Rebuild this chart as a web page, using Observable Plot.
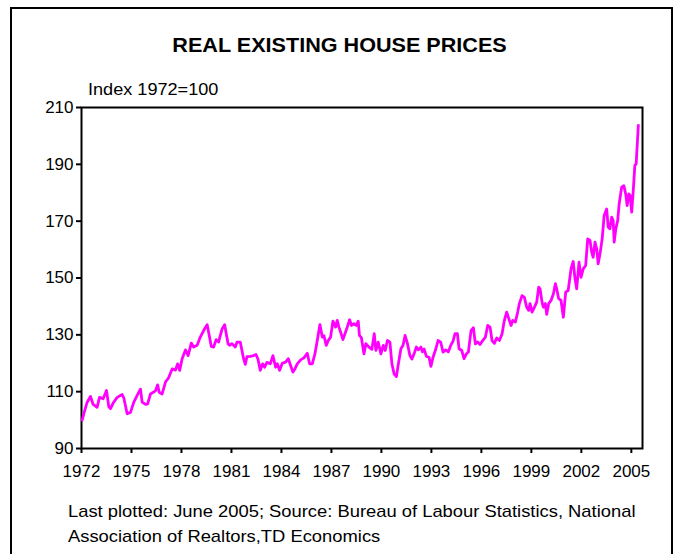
<!DOCTYPE html>
<html>
<head>
<meta charset="utf-8">
<script src="https://cdn.jsdelivr.net/npm/d3@7"></script>
<script src="https://cdn.jsdelivr.net/npm/@observablehq/plot@0.6"></script>
<style>
  html, body { margin: 0; padding: 0; background: #fff; }
  #wrap { position: relative; width: 679px; height: 554px; overflow: hidden; font-family: "Liberation Sans", Arial, sans-serif; color: #000; }
  #border { position: absolute; left: 10px; top: 7px; width: 659px; height: 600px; border: 2px solid #000; }
  #title { position: absolute; left: 0; width: 679px; top: 33px; text-align: center; font-weight: bold; font-size: 20px; line-height: 24px; transform: scaleX(1.08); transform-origin: 339px 0; }
  #unit { position: absolute; left: 88px; top: 79px; font-size: 17px; line-height: 21px; transform: scaleX(1.065); transform-origin: 0 0; white-space: nowrap; }
  #chart { position: absolute; left: 0; top: 0; }
  #caption { position: absolute; left: 68px; top: 499px; font-size: 17px; line-height: 25px; width: 600px; transform: scaleX(1.08); transform-origin: 0 0; white-space: nowrap; }
</style>
</head>
<body>
<div id="wrap">
  <div id="border"></div>
  <div id="chart"></div>
  <div id="title">REAL EXISTING HOUSE PRICES</div>
  <div id="unit">Index 1972=100</div>
  <div id="caption">Last plotted: June 2005; Source: Bureau of Labour Statistics, National<br>Association of Realtors,TD Economics</div>
</div>
<script>
const years = [
  1972.04,1972.14,1972.34,1972.54,1972.70,1972.94,1973.08,1973.30,1973.50,1973.64,1973.74,1973.90,
  1974.14,1974.44,1974.54,1974.74,1974.94,1975.14,1975.44,1975.54,1975.64,1975.84,1975.97,
  1976.14,1976.44,1976.57,1976.66,1976.84,1977.04,1977.23,1977.44,1977.64,1977.77,1977.89,
  1978.04,1978.24,1978.40,1978.59,1978.73,1978.94,1979.13,1979.33,1979.54,1979.63,1979.79,1979.93,
  1980.08,1980.23,1980.44,1980.59,1980.69,1980.80,1980.89,1981.03,1981.23,1981.33,1981.53,1981.63,
  1981.73,1981.83,1981.93,1982.13,1982.33,1982.47,1982.59,1982.73,1982.87,1982.99,1983.13,1983.33,
  1983.49,1983.65,1983.75,1983.89,1984.05,1984.25,1984.41,1984.55,1984.69,1984.81,1984.95,
  1985.15,1985.35,1985.55,1985.69,1985.85,1986.01,1986.15,1986.31,1986.45,1986.55,1986.69,1986.81,
  1986.95,1987.09,1987.25,1987.35,1987.45,1987.55,1987.69,1987.85,1987.95,1988.09,1988.21,1988.35,
  1988.49,1988.61,1988.68,1988.80,1988.95,1989.07,1989.25,1989.43,1989.57,1989.67,1989.81,1989.97,
  1990.11,1990.23,1990.36,1990.51,1990.63,1990.76,1990.90,1991.02,1991.17,1991.30,1991.42,1991.56,
  1991.71,1991.83,1991.96,1992.10,1992.22,1992.37,1992.46,1992.56,1992.70,1992.86,1992.97,1993.10,
  1993.27,1993.40,1993.56,1993.70,1993.86,1994.02,1994.16,1994.30,1994.42,1994.56,1994.66,1994.82,
  1994.96,1995.10,1995.22,1995.38,1995.52,1995.64,1995.78,1995.92,1996.08,1996.24,1996.38,1996.52,
  1996.64,1996.78,1996.92,1997.08,1997.24,1997.38,1997.52,1997.64,1997.78,1997.88,1998.04,1998.18,
  1998.28,1998.44,1998.58,1998.72,1998.84,1998.92,1999.04,1999.18,1999.32,1999.44,1999.52,1999.64,
  1999.72,1999.84,1999.92,2000.04,2000.18,2000.32,2000.44,2000.52,2000.64,2000.78,2000.92,2001.06,
  2001.21,2001.38,2001.51,2001.62,2001.72,2001.86,2001.98,2002.11,2002.26,2002.38,2002.52,2002.62,
  2002.71,2002.82,2002.92,2003.01,2003.12,2003.25,2003.37,2003.52,2003.61,2003.71,2003.82,2003.91,
  2003.97,2004.07,2004.18,2004.27,2004.42,2004.55,2004.66,2004.75,2004.85,2004.93,2005.02,2005.11,
  2005.21,2005.29,2005.42
];
const values = [
  100.0,102.3,106.3,108.3,105.5,104.5,108.0,107.5,110.4,104.7,104.0,106.0,
  108.0,109.0,107.8,102.2,102.7,106.3,109.8,110.9,106.3,105.5,105.7,
  109.2,110.3,112.4,109.8,109.2,113.4,114.9,118.0,117.6,119.8,117.5,
  121.6,124.7,122.7,127.1,125.7,126.3,129.2,131.5,133.6,130.9,125.9,125.7,
  128.3,127.5,132.1,133.6,130.3,126.8,126.3,126.9,125.7,127.4,127.4,124.5,
  121.6,119.6,122.3,122.4,122.7,123.1,121.5,117.5,119.8,118.6,120.3,119.8,
  122.7,118.6,119.8,117.5,120.0,120.4,121.6,119.2,116.9,118.0,119.8,
  121.2,121.9,123.5,119.8,119.8,123.3,128.0,133.6,129.2,129.7,126.3,128.0,
  129.2,134.8,132.7,135.1,132.7,131.0,128.3,131.0,132.7,135.3,133.3,133.9,
  133.3,134.8,129.8,129.0,123.3,126.9,125.7,124.9,130.4,124.5,127.4,123.3,
  126.3,124.5,128.0,127.4,119.8,116.3,115.3,119.8,125.1,126.3,129.8,127.0,
  122.7,121.5,123.3,125.7,124.7,125.7,124.0,125.0,122.4,122.1,118.9,122.1,
  125.1,128.0,127.4,123.9,124.7,124.0,126.3,127.8,130.4,130.4,125.1,124.5,
  121.6,123.3,124.0,131.5,132.5,126.8,127.5,126.6,128.0,129.2,133.3,132.7,
  128.0,127.0,128.9,128.0,130.3,135.1,138.0,135.8,133.3,135.1,134.5,138.0,
  141.0,143.8,143.2,139.7,138.6,141.0,138.0,139.7,141.5,146.8,146.2,141.5,
  139.7,141.0,137.2,141.0,142.1,144.4,148.0,146.2,142.7,142.1,136.2,145.0,
  145.6,153.2,155.8,149.7,146.2,155.6,150.2,153.2,154.4,163.8,163.2,159.1,
  157.3,162.6,160.3,155.0,158.5,163.8,172.0,174.3,167.9,167.3,171.4,170.2,
  162.6,167.3,170.2,176.1,182.0,182.5,179.6,175.5,179.6,179.0,173.2,180.2,
  189.6,190.2,203.7
];
const xTicks = [1972,1975,1978,1981,1984,1987,1990,1993,1996,1999,2002,2005];
const yTicks = [90,110,130,150,170,190,210];

const data = years.map((t, i) => ({t, v: values[i]}));

const chart = Plot.plot({
  width: 679,
  height: 480,
  marginLeft: 81,
  marginRight: 37,
  marginTop: 107,
  marginBottom: 32,
  style: {fontFamily: "'Liberation Sans', Arial, sans-serif", fontSize: "17px", color: "#000", background: "transparent", overflow: "visible"},
  x: {domain: [1972, 2005.67]},
  y: {domain: [90, 210]},
  marks: [
    Plot.frame({stroke: "#000", strokeWidth: 2}),
    Plot.axisX({ticks: xTicks, tickFormat: d => String(d), tickSize: 5, tickPadding: 11, strokeWidth: 2, label: null, fontSize: 17}),
    Plot.axisY({ticks: yTicks, tickSize: 5, tickPadding: 3, strokeWidth: 2, label: null, fontSize: 17}),
    Plot.line(data, {x: "t", y: "v", stroke: "#ff00ff", strokeWidth: 2.8, strokeLinejoin: "round"})
  ]
});
document.getElementById("chart").appendChild(chart);
</script>
</body>
</html>
